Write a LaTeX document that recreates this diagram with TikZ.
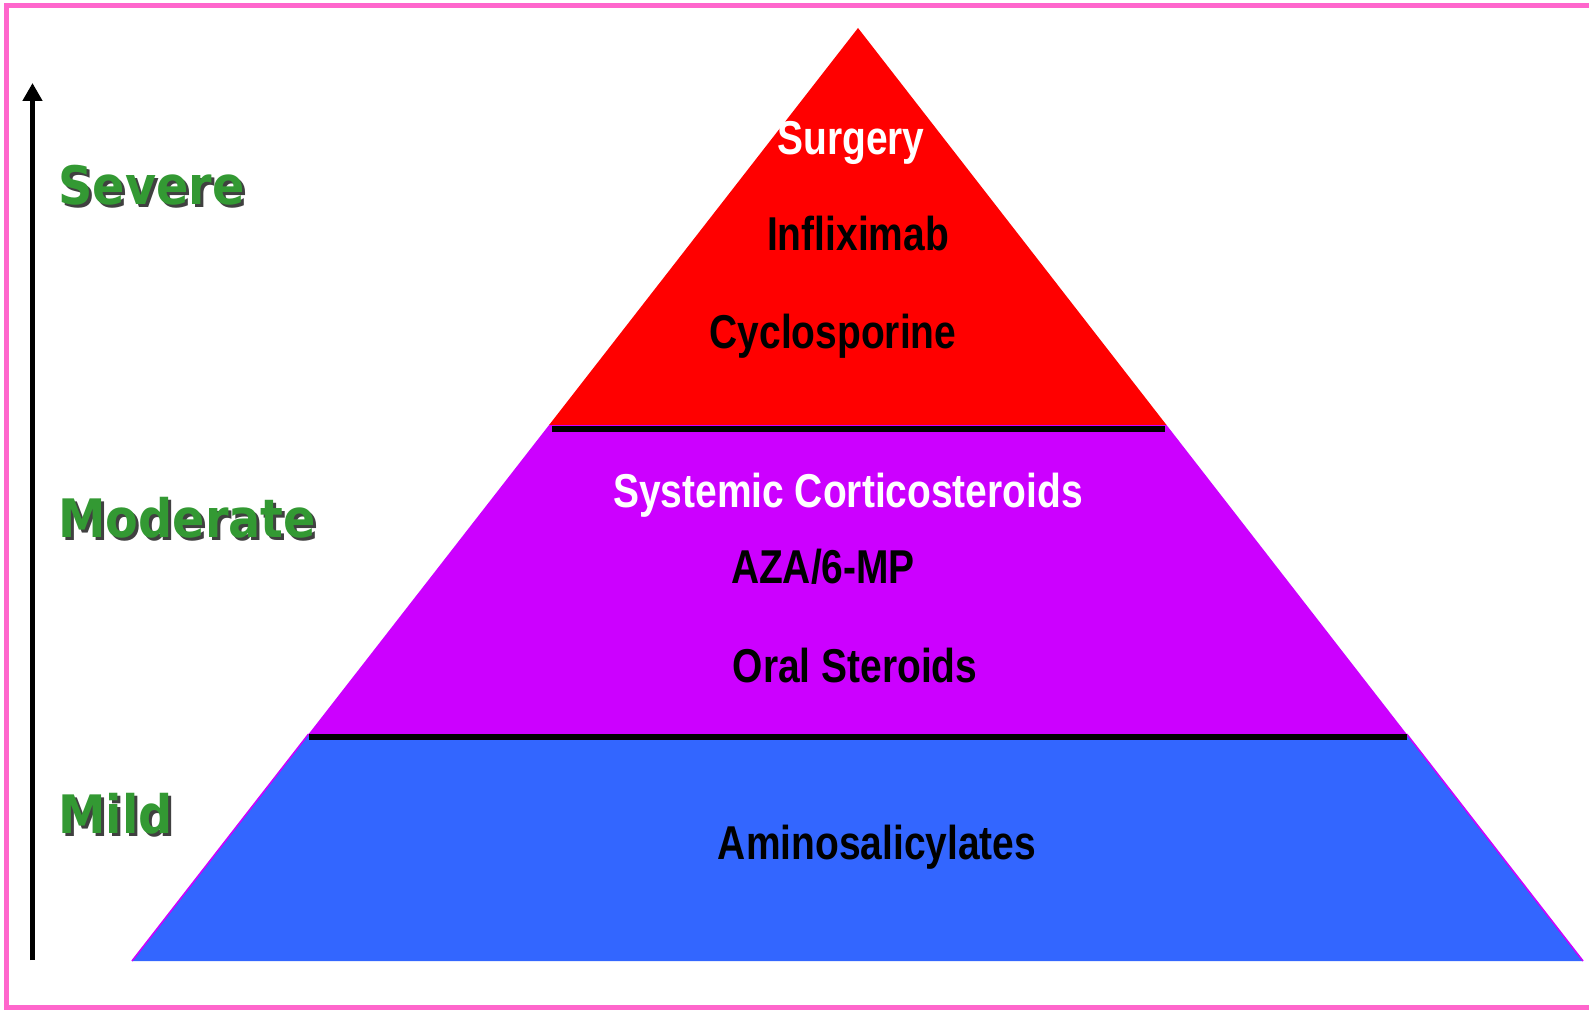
\documentclass[tikz,border=0pt]{standalone}
\usepackage{fontspec}
\usepackage{tikz}
\usepackage{xcolor}
\usetikzlibrary{arrows.meta,calc}
\setmainfont{Liberation Sans}
\newfontfamily\layerfont[FakeStretch=0.82]{Liberation Sans}
\newfontfamily\levelfont[FakeStretch=0.9]{DejaVu Sans}
\definecolor{PyrRed}{HTML}{FF0000}
\definecolor{PyrPurple}{HTML}{CC00FF}
\definecolor{PyrBlue}{HTML}{3366FF}
\definecolor{LevelGreen}{HTML}{339933}
\definecolor{FramePink}{HTML}{FF66CC}

\begin{document}
\begin{tikzpicture}[
      x=0.5pt,y=-0.5pt,
      >={Triangle[width=9.5pt,length=9pt]},
      layer/.style={font=\layerfont\bfseries\fontsize{23.75}{28}\selectfont,anchor=base,inner sep=0pt},
      level/.style={font=\levelfont\bfseries\fontsize{26.5}{32}\selectfont,anchor=base west,inner sep=0pt,text=LevelGreen},
      levelshadow/.style={level,text=black!75},
      sep/.style={line width=3pt,draw=black},
      axis/.style={->,line width=2.75pt,draw=black},
      rim/.style={draw=PyrPurple,line width=0.8pt}
    ]
      \useasboundingbox (0,0) rectangle (1589,1010);
      \draw[FramePink,line width=2.5pt] (6.5,6) rectangle (1600,1007.5);

      % pyramid corners and layer cuts
      \coordinate (apex) at (858,28);
      \coordinate (bl) at (132,961);
      \coordinate (br) at (1583,961);
      \coordinate (cut1l) at ($(apex)!0.4255!(bl)$);
      \coordinate (cut1r) at ($(apex)!0.4255!(br)$);
      \coordinate (cut2l) at ($(apex)!0.7567!(bl)$);
      \coordinate (cut2r) at ($(apex)!0.7567!(br)$);

      \fill[PyrBlue] (cut2l) -- (bl) -- (br) -- (cut2r) -- cycle;
      \draw[rim] (cut2l) -- (bl);
      \draw[rim] (cut2r) -- (br);
      \fill[PyrPurple] (cut1l) -- (cut2l) -- (cut2r) -- (cut1r) -- cycle;
      \fill[PyrRed] (apex) -- (cut1l) -- (cut1r) -- cycle;

      % separators
      \coordinate (sep1a) at (552,429);
      \coordinate (sep1b) at (1165,429);
      \coordinate (sep2a) at (309,737);
      \coordinate (sep2b) at (1407,737);
      \draw[sep] (sep1a) -- (sep1b);
      \draw[sep] (sep2a) -- (sep2b);

      % severity axis
      \coordinate (axbot) at (32.5,960);
      \coordinate (axtop) at (32.5,83);
      \draw[axis] (axbot) -- (axtop);

      \node[levelshadow] (sevsh) at (61,208) {Severe};
      \node[level] (sev) at (58,205) {Severe};
      \node[levelshadow] (modsh) at (61,540) {Moderate};
      \node[level] (mod) at (58,537) {Moderate};
      \node[levelshadow] (mildsh) at (61,836) {Mild};
      \node[level] (mild) at (58,833) {Mild};

      \node[layer,text=white] (surg) at (851,155) {Surgery};
      \node[layer] (infl) at (858,251) {Infliximab};
      \node[layer] (cyclo) at (833,349) {Cyclosporine};
      \node[layer,text=white] (syst) at (848,507) {Systemic Corticosteroids};
      \node[layer] (aza) at (823,583) {AZA/6-MP};
      \node[layer] (oral) at (855,682) {Oral Steroids};
      \node[layer] (amino) at (877,859) {Aminosalicylates};
    \end{tikzpicture}
\end{document}
